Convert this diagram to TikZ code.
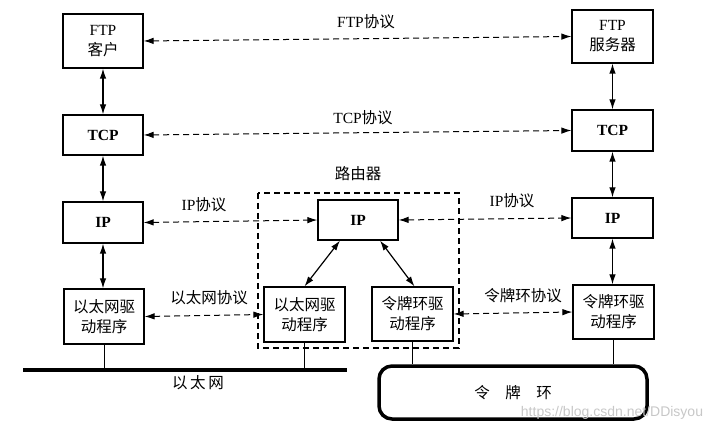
\documentclass[tikz,border=0pt]{standalone}
\usepackage{fontspec}
\setmainfont{Liberation Serif}
\newfontfamily\cjk{Noto Sans CJK SC}
\newfontfamily\wmfont{Liberation Sans}
\usetikzlibrary{arrows.meta}
\tikzset{
  box/.style={draw,line width=1.2bp,inner sep=0pt,align=center,
    font=\fontsize{15.5bp}{20bp}\selectfont},
  solidarrow/.style={line width=1.2bp,{Latex[length=10bp,width=6.5bp]}-{Latex[length=10bp,width=6.5bp]}},
  proto/.style={line width=1bp,dash pattern=on 6bp off 4bp,{Latex[length=10bp,width=6.5bp]}-{Latex[length=10bp,width=6.5bp]}},
  lbl/.style={font=\fontsize{15.5bp}{17bp}\selectfont,inner sep=0pt},
  wire/.style={line width=1bp}
}
\begin{document}
\begin{tikzpicture}[x=1bp,y=-1bp]
\useasboundingbox (0,0) rectangle (724,433);
% left column
\node[box,minimum width=80bp,minimum height=54bp] (ftpc) at (103,41) {FTP\\{\cjk 客户}};
\node[box,minimum width=80bp,minimum height=40bp] (tcpl) at (103,135) {\bfseries TCP};
\node[box,minimum width=80bp,minimum height=41bp] (ipl) at (103,222.5) {\bfseries IP};
\node[box,minimum width=80bp,minimum height=55bp] (ethl) at (104,316.5) {{\cjk 以太网驱}\\{\cjk 动程序}};
% right column
\node[box,minimum width=81bp,minimum height=53bp] (ftps) at (612.5,36.5) {FTP\\{\cjk 服务器}};
\node[box,minimum width=81bp,minimum height=41bp] (tcpr) at (612.5,130.5) {\bfseries TCP};
\node[box,minimum width=81bp,minimum height=40bp] (ipr) at (612.5,218) {\bfseries IP};
\node[box,minimum width=81bp,minimum height=54bp] (tokr) at (613.5,312) {{\cjk 令牌环驱}\\{\cjk 动程序}};
% router
\node[box,minimum width=80bp,minimum height=40bp] (ipm) at (358,220) {\bfseries IP};
\node[box,minimum width=81bp,minimum height=55bp] (ethm) at (304.5,314.5) {{\cjk 以太网驱}\\{\cjk 动程序}};
\node[box,minimum width=81bp,minimum height=54bp] (tokm) at (412.5,314) {{\cjk 令牌环驱}\\{\cjk 动程序}};
\draw[line width=1.1bp,dash pattern=on 6bp off 4bp] (258,193) rectangle (459,348);
\node[lbl] (router) at (358,174) {\cjk 路由器};
% vertical arrows
\draw[solidarrow] (ftpc.south) -- (tcpl.north);
\draw[solidarrow] (tcpl.south) -- (ipl.north);
\draw[solidarrow] (ipl.south) -- (ethl.north -| ipl.south);
\draw[solidarrow] (ftps.south) -- (tcpr.north);
\draw[solidarrow] (tcpr.south) -- (ipr.north);
\draw[solidarrow] (ipr.south) -- (tokr.north -| ipr.south);
\draw[solidarrow] ([xshift=-18bp]ipm.south) -- (ethm.north);
\draw[solidarrow] ([xshift=22bp]ipm.south) -- ([xshift=2bp]tokm.north);
% protocol arrows
\draw[proto] (ftpc.east) -- (ftps.west);
\node[lbl] (lftp) at (366,22) {FTP{\cjk 协议}};
\draw[proto] (tcpl.east) -- (tcpr.west);
\node[lbl] (ltcp) at (363,118) {TCP{\cjk 协议}};
\draw[proto] (ipl.east) -- (ipm.west);
\node[lbl] (lip1) at (204,205) {IP{\cjk 协议}};
\draw[proto] (ipm.east) -- (ipr.west);
\node[lbl] (lip2) at (512,201) {IP{\cjk 协议}};
\draw[proto] (ethl.east) -- (ethm.west);
\node[lbl] (leth) at (209,298) {\cjk 以太网协议};
\draw[proto] (tokm.east) -- (tokr.west);
\node[lbl] (ltok) at (523,296) {\cjk 令牌环协议};
% ethernet
\coordinate (eA) at (23,370);
\coordinate (eB) at (347,370);
\draw[line width=4bp] (eA) -- (eB);
\node[lbl] (ethname) at (198,383) {\cjk 以\,太\,网};
\draw[wire] (ethl.south) -- (ethl.south |- eA);
\draw[wire] (ethm.south) -- (ethm.south |- eA);
% token ring
\node[draw,line width=3.5bp,rounded corners=13bp,minimum width=268bp,minimum height=53bp,inner sep=0pt,
  font=\fontsize{15.5bp}{17bp}\selectfont] (ring) at (513,392.5) {\cjk 令\quad 牌\quad 环};
\draw[wire] (tokm.south) -- (tokm.south |- ring.north);
\draw[wire] (tokr.south) -- (tokr.south |- ring.north);
% watermark
\node[text=black!22,font=\wmfont\fontsize{14bp}{16bp}\selectfont,inner sep=0pt] (wm) at (612,413) {https://blog.csdn.net/DDisyou};
\end{tikzpicture}
\end{document}
